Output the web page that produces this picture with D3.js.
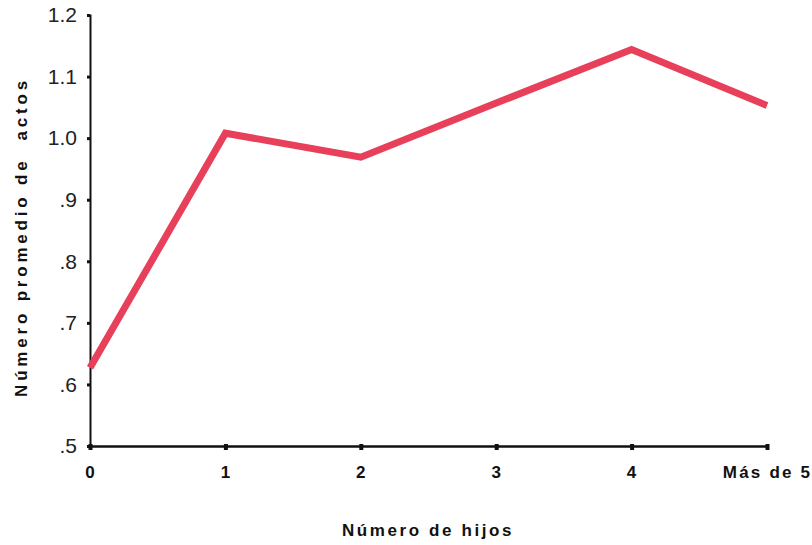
<!DOCTYPE html>
<html><head><meta charset="utf-8">
<script src="https://cdn.jsdelivr.net/npm/d3@7"></script>
<style>body{margin:0;background:#fff}</style>
</head><body>
<svg id="c" width="812" height="545"></svg>
<script>
const categories = ["0","1","2","3","4","Más de 5"];
const values = [0.627, 1.008, 0.969, 1.057, 1.144, 1.053];
const yTicks = [0.5,0.6,0.7,0.8,0.9,1.0,1.1,1.2];
const yTickLabels = [".5",".6",".7",".8",".9","1.0","1.1","1.2"];
const xTitle = "Número de hijos";
const yTitle = "Número promedio de  actos";

const svg = d3.select("#c");
const x = d3.scalePoint().domain(categories).range([90, 767]);
const y = d3.scaleLinear().domain([0.5, 1.2]).range([446, 15]);

// y axis
const ya = svg.append("g").attr("transform","translate(90,0)")
  .call(d3.axisLeft(y).tickValues(yTicks).tickFormat((d,i)=>yTickLabels[i]).tickSize(3).tickPadding(10));
ya.select(".domain").attr("stroke","#111").attr("stroke-width",2);
ya.selectAll(".tick line").attr("stroke","#111").attr("stroke-width",3);
ya.selectAll(".tick text").attr("font-family","Liberation Sans, Arial, sans-serif")
  .attr("font-size",21).attr("fill","#222");

// x axis
const xa = svg.append("g").attr("transform","translate(0,446)")
  .call(d3.axisBottom(x).tickSize(4).tickPadding(8));
xa.select(".domain").attr("stroke","#111").attr("stroke-width",2.5);
xa.selectAll(".tick line").attr("stroke","#111").attr("stroke-width",4).attr("y1",-2);
xa.selectAll(".tick text").attr("font-family","Liberation Sans, Arial, sans-serif")
  .attr("font-size",17).attr("font-weight","bold").attr("fill","#111")
  .attr("y",32).attr("dy",0).attr("letter-spacing",1);
xa.selectAll(".tick").filter(d=>d==="Más de 5").select("text")
  .attr("letter-spacing",2.2).attr("dx",0);

// line
const line = d3.line().x((d,i)=>x(categories[i])).y(d=>y(d));
svg.append("path").datum(values).attr("d",line)
  .attr("fill","none").attr("stroke","#e8405a").attr("stroke-width",7)
  .attr("stroke-linejoin","miter").attr("stroke-linecap","butt");

// titles
svg.append("text").attr("x",428).attr("y",536).attr("text-anchor","middle")
  .attr("font-family","Liberation Sans, Arial, sans-serif").attr("font-size",17)
  .attr("font-weight","bold").attr("letter-spacing",2.6).attr("fill","#111").text(xTitle);
svg.append("text").attr("transform","translate(27,237) rotate(-90)").attr("text-anchor","middle")
  .attr("font-family","Liberation Sans, Arial, sans-serif").attr("font-size",17)
  .attr("font-weight","bold").attr("letter-spacing",3.8).attr("fill","#111")
  .style("white-space","pre").text(yTitle);
</script>
</body></html>
